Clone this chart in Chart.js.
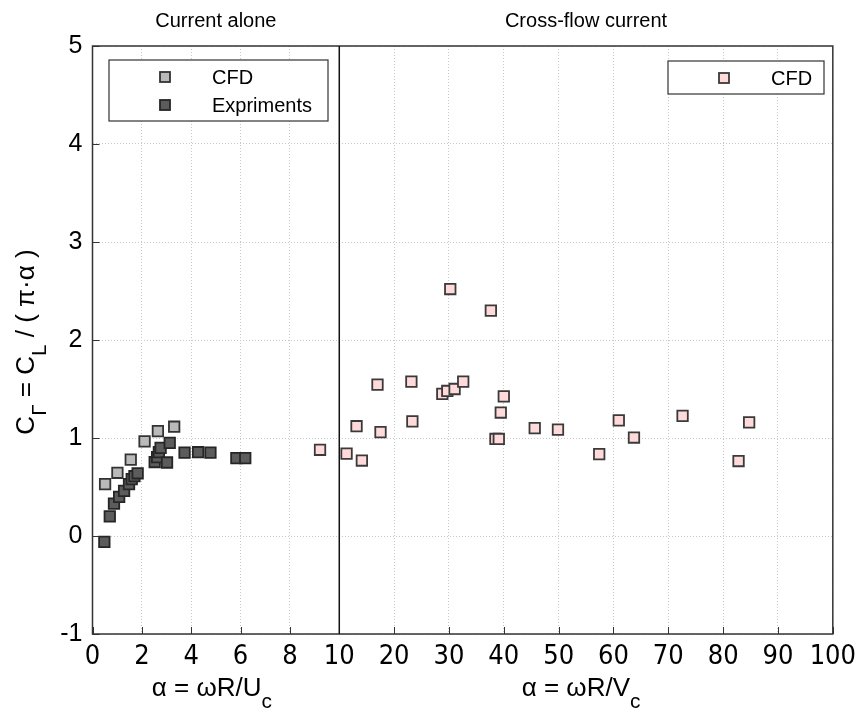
<!DOCTYPE html>
<html>
<head>
<meta charset="utf-8">
<title>Circulation coefficient</title>
<script src="https://cdn.jsdelivr.net/npm/chart.js@4.4.1/dist/chart.umd.min.js"></script>
<style>
  html, body { margin: 0; padding: 0; background: #fff; }
  #wrap { position: relative; width: 863px; height: 713px; }
</style>
</head>
<body>
<div id="wrap"><canvas id="chart"></canvas></div>
<script>
// Current alone - CFD
const aloneCfdX = [0.51, 1.01, 1.55, 2.11, 2.65, 3.31];
const aloneCfdY = [0.53, 0.645, 0.78, 0.965, 1.07, 1.115];

// Current alone - experiments
const expX = [0.48, 0.70, 0.87, 1.08, 1.28, 1.48, 1.59, 1.70, 1.83, 2.52, 2.62, 2.69, 2.76, 3.02, 3.13, 3.73, 4.28, 4.78, 5.83, 6.19];
const expY = [-0.06, 0.20, 0.33, 0.40, 0.46, 0.53, 0.58, 0.61, 0.64, 0.755, 0.805, 0.855, 0.90, 0.75, 0.95, 0.85, 0.855, 0.85, 0.795, 0.795];

// Cross-flow current - CFD
const crossX = [9.22, 11.33, 13.15, 14.12, 16.97, 17.52, 23.15, 23.33, 28.79, 29.70, 30.24, 31.03, 32.6, 37.64, 38.48, 39.09, 39.45, 40.0, 45.64, 49.88, 57.4, 60.97, 63.74, 72.6, 82.81, 84.74];
const crossY = [0.88, 0.84, 1.12, 0.77, 1.545, 1.06, 1.575, 1.17, 1.45, 1.48, 2.52, 1.50, 1.575, 2.30, 0.99, 0.99, 1.26, 1.425, 1.10, 1.085, 0.835, 1.18, 1.005, 1.225, 0.765, 1.16];

const xTickValues = [0, 2, 4, 6, 8, 10, 20, 30, 40, 50, 60, 70, 80, 90, 100];
const panelTitles = ['Current alone', 'Cross-flow current'];
const SPLIT = 10;

const SANS = '"Liberation Sans", Arial, sans-serif';
const NARROW = '"Liberation Sans Narrow", "DejaVu Sans Condensed", "Liberation Sans", sans-serif';

// x axis: 0-10 takes the left third, 10-100 the remaining two thirds
class SplitScale extends Chart.LinearScale {
  buildTicks() {
    return xTickValues.map(v => ({ value: v }));
  }
  getPixelForValue(v) {
    const f = v <= SPLIT ? (v / SPLIT) / 3 : 1 / 3 + (v - SPLIT) / (100 - SPLIT) * 2 / 3;
    return this.getPixelForDecimal(f);
  }
  getValueForPixel(p) {
    const f = this.getDecimalForPixel(p);
    return f <= 1 / 3 ? f * 3 * SPLIT : SPLIT + (f - 1 / 3) * 1.5 * (100 - SPLIT);
  }
}
SplitScale.id = 'split';
SplitScale.defaults = {};
Chart.register(SplitScale);

function pts(xs, ys) {
  return xs.map((x, i) => ({ x: x, y: ys[i] }));
}

function drawRich(ctx, parts, cx, base, size) {
  const widths = parts.map(([t, sub]) => {
    ctx.font = (sub ? size * 0.8 : size) + 'px ' + SANS;
    return ctx.measureText(t).width;
  });
  let x = cx - widths.reduce((a, b) => a + b, 0) / 2;
  ctx.textAlign = 'left';
  ctx.textBaseline = 'alphabetic';
  parts.forEach(([t, sub], i) => {
    ctx.font = (sub ? size * 0.8 : size) + 'px ' + SANS;
    ctx.fillText(t, x, base + (sub ? size * 0.45 : 0));
    x += widths[i];
  });
}

function legendBox(ctx, left, top, right, items) {
  const rowH = 28;
  const bottom = top + 17 + (items.length - 1) * rowH + 16;
  ctx.fillStyle = '#fff';
  ctx.fillRect(left, top, right - left, bottom - top);
  ctx.strokeStyle = '#333';
  ctx.lineWidth = 1.2;
  ctx.strokeRect(left, top, right - left, bottom - top);
  items.forEach((ds, i) => {
    const cy = top + 17 + i * rowH;
    const mx = left + 56;
    ctx.fillStyle = ds.backgroundColor;
    ctx.strokeStyle = ds.borderColor;
    ctx.lineWidth = ds.borderWidth;
    ctx.fillRect(mx - 5, cy - 5, 10, 10);
    ctx.strokeRect(mx - 5, cy - 5, 10, 10);
    ctx.fillStyle = '#000';
    ctx.font = '20px ' + SANS;
    ctx.textAlign = 'left';
    ctx.textBaseline = 'middle';
    ctx.fillText(ds.label, left + 103, cy + 1);
  });
}

const decor = {
  id: 'decor',
  afterDraw(chart) {
    const { ctx, chartArea: a } = chart;
    const xs = chart.scales.x, ys = chart.scales.y;
    const xm = xs.getPixelForValue(SPLIT);
    ctx.save();

    // inner ticks
    ctx.strokeStyle = '#333';
    ctx.lineWidth = 1;
    ctx.beginPath();
    xTickValues.forEach(v => {
      const px = Math.round(xs.getPixelForValue(v)) + 0.5;
      ctx.moveTo(px, a.bottom);
      ctx.lineTo(px, a.bottom - 7);
    });
    ys.ticks.forEach(t => {
      const py = Math.round(ys.getPixelForValue(t.value)) + 0.5;
      ctx.moveTo(a.left, py);
      ctx.lineTo(a.left + 7, py);
    });
    ctx.stroke();

    // frame and panel divider
    ctx.strokeStyle = '#333';
    ctx.lineWidth = 1.5;
    ctx.strokeRect(a.left, a.top, a.right - a.left, a.bottom - a.top);
    ctx.strokeStyle = '#111';
    ctx.beginPath();
    ctx.moveTo(xm, a.top);
    ctx.lineTo(xm, a.bottom);
    ctx.stroke();

    // panel titles
    ctx.fillStyle = '#000';
    ctx.font = '20px ' + SANS;
    ctx.textAlign = 'center';
    ctx.textBaseline = 'alphabetic';
    ctx.fillText(panelTitles[0], (a.left + xm) / 2, 27);
    ctx.fillText(panelTitles[1], (xm + a.right) / 2, 27);

    // axis titles
    drawRich(ctx, [['\u03B1 = \u03C9R/U', false], ['c', true]], (a.left + xm) / 2 - 4, 696, 26);
    drawRich(ctx, [['\u03B1 = \u03C9R/V', false], ['c', true]], (xm + a.right) / 2 - 5, 696, 26);

    ctx.save();
    ctx.translate(34, (a.top + a.bottom) / 2 + 2);
    ctx.rotate(-Math.PI / 2);
    drawRich(ctx, [['C', false], ['\u0393', true], [' = C', false], ['L', true], [' / ( \u03C0\u00B7\u03B1 )', false]], 0, 0, 26);
    ctx.restore();

    // legends
    const ds = chart.data.datasets;
    legendBox(ctx, 109, 60, 328, [ds[0], ds[1]]);
    legendBox(ctx, 668, 61, 824, [{ ...ds[2], label: 'CFD' }]);

    ctx.restore();
  }
};

const squareStyle = { pointStyle: 'rect', pointRadius: 7.4, pointBorderWidth: 1.8 };

new Chart(document.getElementById('chart'), {
  type: 'scatter',
  data: {
    datasets: [
      Object.assign({ label: 'CFD', data: pts(aloneCfdX, aloneCfdY), backgroundColor: '#bababa', borderColor: '#333', borderWidth: 1.8, order: 2 }, squareStyle),
      Object.assign({ label: 'Expriments', data: pts(expX, expY), backgroundColor: '#5c5c5c', borderColor: '#262626', borderWidth: 1.8, order: 1 }, squareStyle),
      Object.assign({ label: 'CFD (cross-flow)', data: pts(crossX, crossY), backgroundColor: '#ffdada', borderColor: '#3a3a3a', borderWidth: 1.8, order: 3 }, squareStyle)
    ]
  },
  options: {
    responsive: true,
    maintainAspectRatio: false,
    animation: false,
    events: [],
    layout: { padding: { top: 46, right: 26, left: 0, bottom: 0 } },
    plugins: { legend: { display: false }, tooltip: { enabled: false } },
    scales: {
      x: {
        type: 'split',
        min: 0,
        max: 100,
        afterFit(scale) { scale.height = 79; },
        grid: { color: '#c8c8c8', lineWidth: 1, drawTicks: false },
        border: { display: false, dash: [1, 2] },
        ticks: {
          autoSkip: false,
          maxRotation: 0,
          minRotation: 0,
          padding: 7,
          color: '#000',
          font: { family: NARROW, size: 27 },
          callback: v => String(v)
        }
      },
      y: {
        type: 'linear',
        min: -1,
        max: 5,
        afterFit(scale) { scale.width = 92.5; },
        grid: { color: '#c8c8c8', lineWidth: 1, drawTicks: false },
        border: { display: false, dash: [1, 2] },
        ticks: {
          stepSize: 1,
          padding: 10,
          color: '#000',
          font: { family: SANS, size: 25 }
        }
      }
    }
  },
  plugins: [decor]
});
</script>
</body>
</html>
